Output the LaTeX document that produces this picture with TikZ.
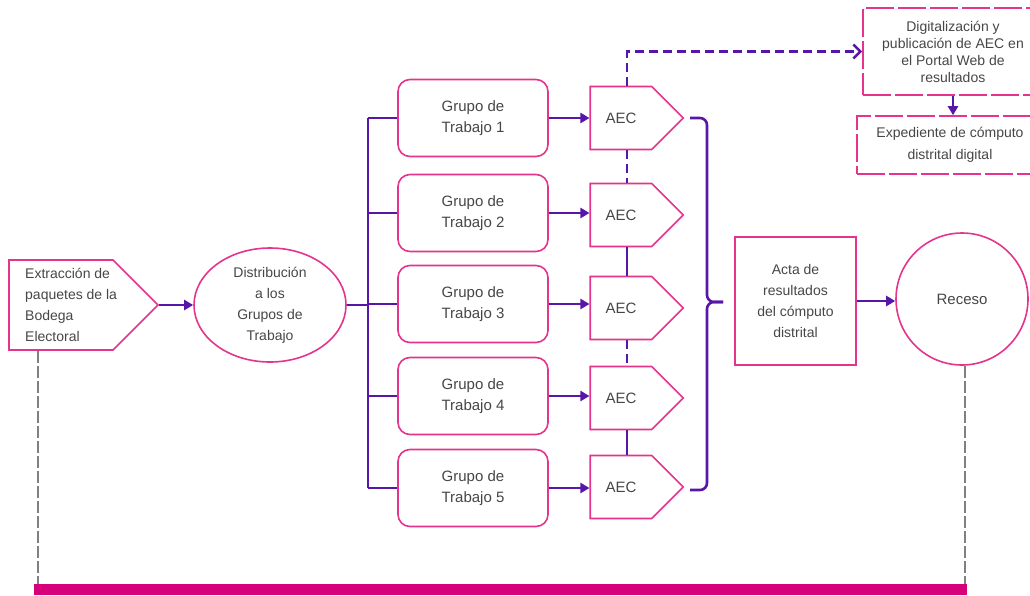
\documentclass[tikz,border=0pt]{standalone}
\usepackage{fontspec}
\setmainfont{Liberation Sans}
\usetikzlibrary{shapes.symbols,shapes.geometric,arrows.meta}
\definecolor{rosa}{RGB}{228,52,140}
\definecolor{morado}{RGB}{88,22,168}
\definecolor{barra}{RGB}{214,0,122}
\definecolor{texto}{RGB}{70,70,70}

\begin{document}
\begin{tikzpicture}[x=1pt,y=-1pt,font=\fontsize{14}{21}\selectfont,text=texto,
caja/.style={draw=rosa,line width=1.6pt,align=center,inner sep=2pt},
grupo/.style={caja,rounded corners=12pt,minimum width=150pt,minimum height=77pt,font=\fontsize{15}{21}\selectfont},
aec/.style={caja,signal,signal to=east,minimum width=93pt,minimum height=63pt,font=\fontsize{15}{21}\selectfont},
linea/.style={draw=morado,line width=2.6pt},
flecha/.style={linea,-{Triangle[length=9pt,width=10pt]}},
trazos/.style={linea,dash pattern=on 9pt off 5pt},
gris/.style={draw=gray,line width=1.6pt,dash pattern=on 12pt off 3pt}]
\useasboundingbox (0,0) rectangle (1030,595);
% entrada
\node[caja,signal,signal to=east,inner sep=0pt,text width=104pt,minimum height=90pt] (ext) at (61,305) {};
\node[anchor=west,align=left,inner sep=0pt] (exttxt) at (25,305) {Extracción de\\paquetes de la\\Bodega\\Electoral};
\node[caja,ellipse,minimum width=152pt,minimum height=114pt] (dist) at (270,305) {Distribución\\a los\\Grupos de\\Trabajo};
\draw[flecha] (ext.east) -- (dist.west);
\coordinate (tronco) at (368,305);
\draw[linea] (dist.east) -- (tronco);
% grupos y actas
\foreach \i/\y/\ay in {1/118/118,2/213/215,3/304/308,4/396/398,5/488/487} {
   \node[grupo] (g\i) at (473,\y) {Grupo de\\Trabajo \i};
   \node[aec] (a\i) at (621,\ay) {AEC};
   \draw[linea] (g\i.west) -- (g\i.west -| tronco);
   \draw[flecha] (g\i.east) -- (g\i.east -| a\i.west);
}
\draw[linea] (g1.west -| tronco) -- (g5.west -| tronco);
\foreach \i/\j/\s in {1/2/trazos,2/3/linea,3/4/trazos,4/5/linea} {
   \draw[\s] ([xshift=6pt]a\i.south) -- ([xshift=6pt]a\j.north);
}
% llave
\coordinate (llave) at (723,302);
\draw[linea,rounded corners=7pt] (690,118) -| (707,302) -- (llave);
\draw[linea,rounded corners=7pt] (690,490) -| (707,302) -- (llave);
\node[caja,minimum width=121pt,minimum height=128pt] (acta) at (795.5,301) {Acta de\\resultados\\del cómputo\\distrital};
\node[caja,circle,minimum size=132pt,font=\fontsize{15}{21}\selectfont] (rec) at (962,299) {Receso};
\draw[flecha] (acta.east) -- (acta.east -| rec.west);
% portal web
\node[caja,dash pattern=on 28pt off 4pt,minimum width=180pt,minimum height=87pt,font=\fontsize{14}{17}\selectfont] (dig) at (953,51.5) {Digitalización y\\publicación de AEC en\\el Portal Web de\\resultados};
\node[caja,dash pattern=on 28pt off 4pt,minimum width=186pt,minimum height=58pt,font=\fontsize{14}{22}\selectfont] (exp) at (950,145) {Expediente de cómputo\\distrital digital};
\draw[trazos,-{Straight Barb[length=7pt,width=14pt]}] ([xshift=6pt]a1.north) |- (dig.west);
\draw[flecha] (dig.south) -- (dig.south |- exp.north);
% linea de tiempo
\coordinate (l1) at (38,584);
\coordinate (l2) at (965,584);
\draw[gris] (ext.south -| l1) -- (l1);
\draw[gris] (rec.south -| l2) -- (l2);
\fill[barra] (34,584) rectangle (967,595);
\end{tikzpicture}
\end{document}
